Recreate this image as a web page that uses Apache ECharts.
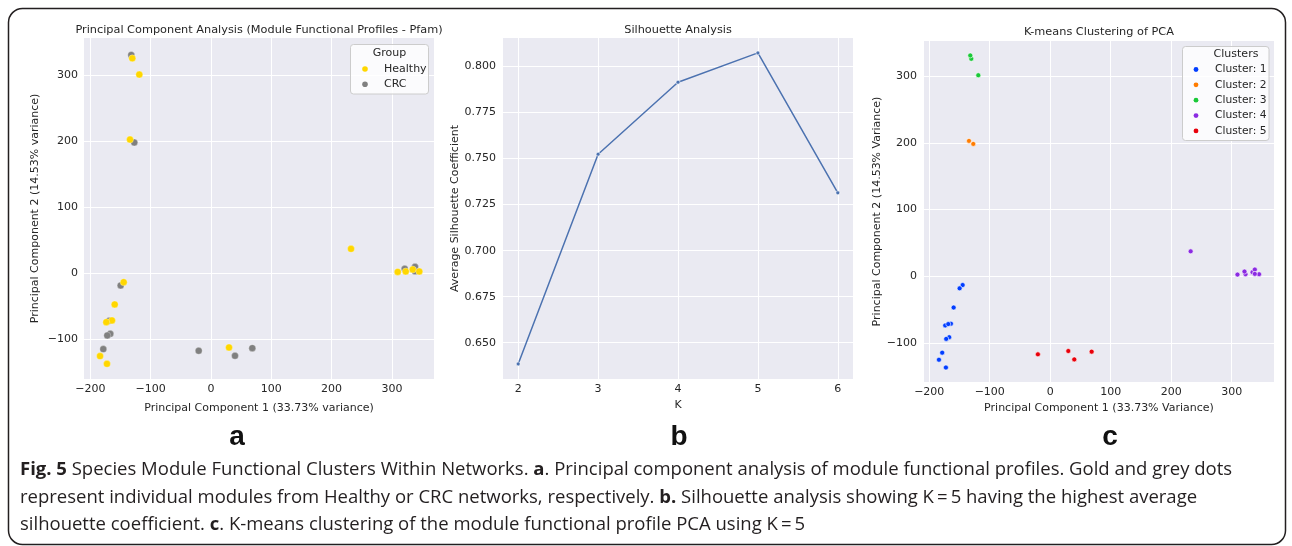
<!DOCTYPE html>
<html><head><meta charset="utf-8">
<script src="https://cdn.jsdelivr.net/npm/echarts@6/dist/echarts.min.js"></script>
<style>html,body{margin:0;padding:0;background:#fff}#c{width:1292px;height:546px}</style>
</head><body><div id="c"></div>
<script>
// ---------- data ----------
const groupNames = ['Healthy', 'CRC'];
const healthyX = [-130.5, -118.9, -134.3, -144.8, -159.7, -164.2, -173.6, -184.0, -172.5, 29.9, 232.2, 309.6, 322.9, 334.5, 345.4];
const healthyY = [326.2, 301.5, 203.0, -13.2, -47.0, -71.2, -73.8, -125.3, -137.0, -112.2, 37.3, 2.4, 3.0, 6.0, 3.0];
const healthyCluster = [3, 3, 2, 1, 1, 1, 1, 1, 1, 5, 4, 4, 4, 4, 4];
const crcX = [-132.2, -127.2, -149.8, -168.6, -167.0, -172.0, -178.6, -20.4, 39.8, 68.5, 321.2, 338.3, 338.3];
const crcY = [331.2, 198.5, -18.2, -71.8, -91.5, -94.0, -114.7, -117.2, -124.8, -113.2, 7.0, 10.0, 3.5];
const crcCluster = [3, 2, 1, 1, 1, 1, 1, 5, 5, 5, 4, 4, 4];
const clusterIds = [1, 2, 3, 4, 5];
const clusterNames = ['Cluster: 1', 'Cluster: 2', 'Cluster: 3', 'Cluster: 4', 'Cluster: 5'];
const kValues = [2, 3, 4, 5, 6];
const silhouette = [0.6385, 0.7524, 0.7915, 0.8074, 0.7314];
const pcaTicksX = [-200, -100, 0, 100, 200, 300];
const pcaTicksY = [-100, 0, 100, 200, 300];
const silTicksX = [2, 3, 4, 5, 6];
const silTicksY = [0.65, 0.675, 0.7, 0.725, 0.75, 0.775, 0.8];

// ---------- styles ----------
const TXT = '#262626';
const FONT = 'DejaVu Sans';
const groupColors = ['#FFD700', '#808080'];
const clusterColors = ['#023eff', '#ff7c00', '#1ac938', '#8b2be2', '#e8000b'];
const CAPFONT = 'Open Sans';

const minus = v => (v < 0 ? '\u2212' + Math.abs(v) : String(v));

function axis(o) {
  return Object.assign({
    type: 'value',
    axisLine: { show: false },
    axisTick: { show: false, customValues: o.ticks },
    axisLabel: { color: TXT, fontFamily: FONT, fontSize: 11, margin: o.margin || 6, customValues: o.ticks, formatter: o.fmt || minus },
    splitLine: { show: true, lineStyle: { color: '#ffffff', width: 1 } },
    nameLocation: 'middle',
    nameTextStyle: { color: TXT, fontFamily: FONT, fontSize: 11 }
  }, o.extra);
}

const zip = (xs, ys) => xs.map((x, i) => [x, ys[i]]);

const grids = [
  { left: 84, top: 38, width: 350, height: 341 },
  { left: 503, top: 38, width: 350, height: 341 },
  { left: 924, top: 41, width: 350, height: 341 }
].map(g => Object.assign(g, { show: true, backgroundColor: '#EAEAF2', borderWidth: 0, containLabel: false, outerBoundsMode: 'none' }));

const xAxes = [
  axis({ ticks: pcaTicksX, margin: 5, extra: { gridIndex: 0, min: -210.6, max: 369.8, name: 'Principal Component 1 (33.73% variance)', nameGap: 24 } }),
  axis({ ticks: silTicksX, margin: 5, fmt: v => String(v), extra: { gridIndex: 1, min: 1.81, max: 6.19, name: 'K', nameGap: 17 } }),
  axis({ ticks: pcaTicksX, margin: 5, extra: { gridIndex: 2, min: -208.7, max: 370, name: 'Principal Component 1 (33.73% Variance)', nameGap: 17 } })
];
const yAxes = [
  axis({ ticks: pcaTicksY, margin: 6, extra: { gridIndex: 0, min: -160, max: 357, name: 'Principal Component 2 (14.53% variance)', nameGap: 43 } }),
  axis({ ticks: silTicksY, margin: 7, fmt: v => v.toFixed(3), extra: { gridIndex: 1, min: 0.6303, max: 0.8155, name: 'Average Silhouette Coefficient', nameGap: 38 } }),
  axis({ ticks: pcaTicksY, margin: 7, extra: { gridIndex: 2, min: -158.7, max: 352.9, name: 'Principal Component 2 (14.53% Variance)', nameGap: 37 } })
];

const series = [];
// panel a
const groupData = [zip(healthyX, healthyY), zip(crcX, crcY)];
[1, 0].forEach(gi => {
  series.push({ type: 'scatter', name: groupNames[gi], xAxisIndex: 0, yAxisIndex: 0, data: groupData[gi],
    symbolSize: 7, itemStyle: { color: groupColors[gi], opacity: 1, borderColor: '#fff', borderWidth: 0.3 }, z: gi === 0 ? 3 : 2 });
});
// panel b
series.push({ type: 'line', name: 'Silhouette', xAxisIndex: 1, yAxisIndex: 1, data: zip(kValues, silhouette),
  symbol: 'circle', symbolSize: 4, showSymbol: true,
  lineStyle: { color: '#4c72b0', width: 1.5 }, itemStyle: { color: '#4c72b0', borderColor: '#fff', borderWidth: 0.6 } });
// panel c
clusterIds.forEach((cid, ci) => {
  const pts = [];
  healthyX.forEach((x, i) => { if (healthyCluster[i] === cid) pts.push([x, healthyY[i]]); });
  crcX.forEach((x, i) => { if (crcCluster[i] === cid) pts.push([x, crcY[i]]); });
  series.push({ type: 'scatter', name: clusterNames[ci], xAxisIndex: 2, yAxisIndex: 2, data: pts,
    symbolSize: 5, itemStyle: { color: clusterColors[ci], opacity: 1, borderColor: '#fff', borderWidth: 0.6 } });
});

// ---------- graphics ----------
const g = [];
function text(x, y, t, o) {
  g.push(Object.assign({ type: 'text', x: x, y: y, z: 100,
    style: Object.assign({ text: t, fill: TXT, font: '11px "' + FONT + '"', align: 'center', verticalAlign: 'middle' }, o || {}) }));
}
// frame
g.push({ type: 'rect', z: 0, shape: { x: 8.5, y: 8.5, width: 1277, height: 536, r: 14 }, style: { fill: 'none', stroke: '#231f20', lineWidth: 1.5 } });
// titles
const titleFont = { font: '11.3px "' + FONT + '"' };
text(259, 30, 'Principal Component Analysis (Module Functional Profiles - Pfam)', titleFont);
text(678, 30, 'Silhouette Analysis', titleFont);
text(1099, 32, 'K-means Clustering of PCA', titleFont);
// legend a
g.push({ type: 'rect', z: 90, shape: { x: 350.5, y: 44.5, width: 78, height: 49.5, r: 3 }, style: { fill: 'rgba(255,255,255,0.8)', stroke: '#cccccc', lineWidth: 1 } });
text(389.5, 53, 'Group');
groupNames.forEach((n, i) => {
  g.push({ type: 'circle', z: 100, shape: { cx: 365, cy: 69 + i * 15.3, r: 2.8 }, style: { fill: groupColors[i] } });
  text(384, 69 + i * 15.3, n, { align: 'left' });
});
// legend c
g.push({ type: 'rect', z: 90, shape: { x: 1182.5, y: 46.5, width: 86.5, height: 94, r: 3 }, style: { fill: 'rgba(255,255,255,0.8)', stroke: '#cccccc', lineWidth: 1 } });
text(1236, 54.5, 'Clusters');
clusterNames.forEach((n, i) => {
  g.push({ type: 'circle', z: 100, shape: { cx: 1196, cy: 69.5 + i * 15.35, r: 2.4 }, style: { fill: clusterColors[i] } });
  text(1215, 69.5 + i * 15.35, n, { align: 'left', font: '10.7px "' + FONT + '"' });
});
// panel letters
const letterStyle = { font: 'bold 28px "Liberation Sans"', fill: '#111' };
text(237, 437, 'a', letterStyle);
text(679, 437, 'b', letterStyle);
text(1110, 437, 'c', letterStyle);
// caption
const capStyle = (t) => ({ text: t, align: 'left', verticalAlign: 'middle', fill: '#231f20', fontFamily: CAPFONT, fontSize: 18.5,
  rich: { b: { fontFamily: CAPFONT, fontSize: 18.5, fontWeight: 'bold', fill: '#231f20' } } });
const capLines = [
  '{b|Fig. 5} Species Module Functional Clusters Within Networks. {b|a}. Principal component analysis of module functional profiles. Gold and grey dots',
  'represent individual modules from Healthy or CRC networks, respectively. {b|b.} Silhouette analysis showing K\u2009=\u20095 having the highest average',
  'silhouette coefficient. {b|c}. K-means clustering of the module functional profile PCA using K\u2009=\u20095'
];
capLines.forEach((t, i) => g.push({ type: 'text', x: 20, y: 470 + i * 27.5, z: 100, style: capStyle(t) }));

const chart = echarts.init(document.getElementById('c'), null, { renderer: 'canvas' });
chart.setOption({
  animation: false,
  backgroundColor: '#ffffff',
  grid: grids, xAxis: xAxes, yAxis: yAxes, series: series, graphic: g
});
</script></body></html>
